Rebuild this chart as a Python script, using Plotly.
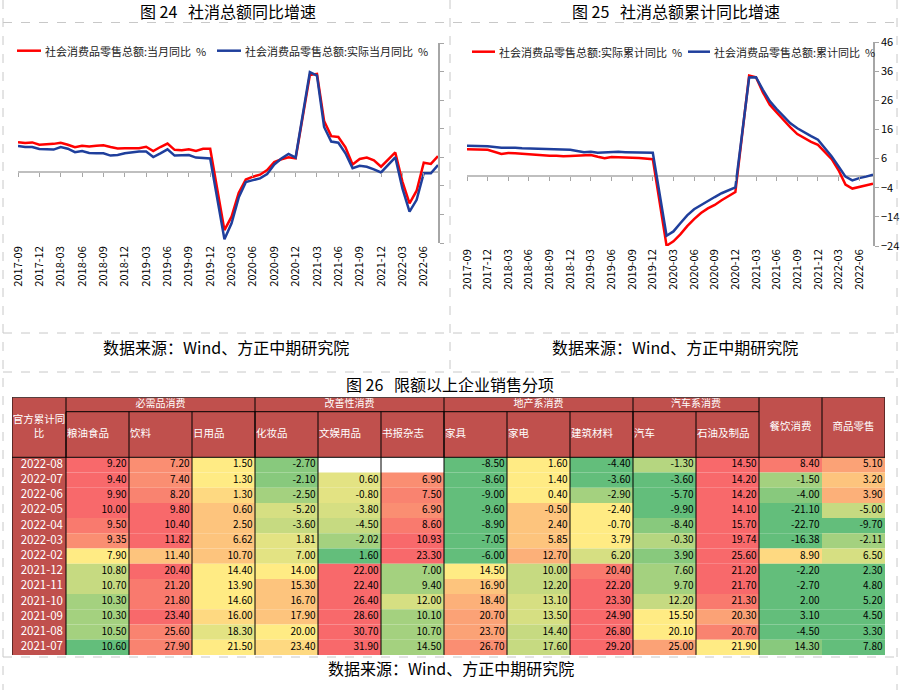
import plotly.graph_objects as go

# ---------------- data ----------------
months = [f"{y}-{m:02d}" for y in range(2017, 2023) for m in range(1, 13)][8:68]
tick_labels = months[::3]

retail_yoy = [10.3, 10.0, 10.2, 9.4, None, 9.7, 10.1, 9.4, 8.5, 9.0, 8.8, 9.0, 9.2, 8.6, 8.1, 8.2,
              None, 8.2, 8.7, 7.2, 8.6, 9.8, 7.6, 7.5, 7.8, 7.2, 8.0, 8.0,
              None, -20.5, -15.8, -7.5, -2.8, -1.8, -1.1, 0.5, 3.3, 4.3, 5.0, 4.6,
              None, 33.8, 34.2, 17.7, 12.4, 12.1, 8.5, 2.5, 4.4, 4.9, 3.9, 1.7,
              None, 6.7, -3.5, -11.1, -6.7, 3.1, 2.7, 5.4]
retail_real_yoy = [9.0, 8.6, 8.6, 7.9, None, 7.7, 8.6, 8.0, 6.8, 7.2, 6.5, 6.4, 6.4, 5.6, 5.8, 6.4,
                   None, 7.0, 7.0, 5.1, 6.4, 7.8, 5.6, 5.6, 5.8, 4.9, 4.8, 4.6,
                   None, -23.7, -18.1, -9.1, -3.7, -3.0, -2.4, -0.9, 2.5, 4.6, 6.2, 4.9,
                   None, 34.8, 33.6, 15.6, 10.5, 10.1, 6.4, 1.2, 2.0, 1.7, 0.8, -0.3,
                   None, 5.0, -5.9, -14.0, -9.9, -0.6, -0.6, 2.3]
retail_real_cum = [9.2, 9.1, 9.1, 9.0, None, 7.6, 7.9, 7.8, 7.6, 7.5, 7.3, 7.1, 7.0, 7.0, 6.8, 6.9,
                   None, 7.0, 7.2, 6.6, 6.1, 6.5, 6.5, 6.3, 6.3, 6.2, 6.0, 5.8,
                   None, -23.9, -22.4, -20.0, -17.2, -14.8, -12.7, -11.1, -9.9, -8.3, -6.8, -5.5,
                   None, 34.5, 33.9, 28.7, 24.5, 21.8, 19.2, 16.7, 14.4, 12.9, 11.7, 10.7,
                   None, 5.8, 2.0, -2.9, -4.3, -3.7, -3.2, -2.6]
retail_cum = [10.4, 10.3, 10.3, 10.2, None, 9.7, 9.8, 9.7, 9.5, 9.4, 9.3, 9.3, 9.3, 9.2, 9.1, 9.0,
              None, 8.2, 8.3, 8.0, 8.1, 8.4, 8.3, 8.2, 8.2, 8.1, 8.0, 8.0,
              None, -20.5, -19.0, -16.2, -13.5, -11.4, -9.9, -8.6, -7.2, -5.9, -4.8, -3.9,
              None, 33.8, 33.9, 29.6, 25.7, 23.0, 20.7, 18.1, 16.4, 14.9, 13.7, 12.5,
              None, 6.7, 3.3, -0.2, -1.5, -0.7, -0.2, 0.5]

left_ticks = [-25, -15, -5, 5, 15, 25, 35, 45]
right_ticks = [-24, -14, -4, 6, 16, 26, 36, 46]

table_dates = ['2022-08', '2022-07', '2022-06', '2022-05', '2022-04', '2022-03', '2022-02',
               '2021-12', '2021-11', '2021-10', '2021-09', '2021-08', '2021-07']
group_names = ['必需品消费', '改善性消费', '地产系消费', '汽车系消费']
group_spans = [(1, 3), (4, 6), (7, 9), (10, 11)]
col_names = ['粮油食品', '饮料', '日用品', '化妆品', '文娱用品', '书报杂志', '家具', '家电',
             '建筑材料', '汽车', '石油及制品', '餐饮消费', '商品零售']

grain_oil = [9.20, 9.40, 9.90, 10.00, 9.50, 9.35, 7.90, 10.80, 10.70, 10.30, 10.30, 10.50, 10.60]
beverage = [7.20, 7.40, 8.20, 9.80, 10.40, 11.82, 11.40, 20.40, 21.20, 21.80, 23.40, 25.60, 27.90]
daily_use = [1.50, 1.30, 1.30, 0.60, 2.50, 6.62, 10.70, 14.40, 13.90, 14.60, 16.00, 18.30, 21.50]
cosmetics = [-2.70, -2.10, -2.50, -5.20, -3.60, 1.81, 7.00, 14.00, 15.30, 16.70, 17.90, 20.00, 23.40]
stationery = [None, 0.60, -0.80, -3.80, -4.50, -2.02, 1.60, 22.00, 22.40, 26.40, 28.60, 30.70, 31.90]
books = [None, 6.90, 7.50, 6.90, 8.60, 10.93, 23.30, 7.00, 9.40, 12.00, 10.10, 10.70, 14.50]
furniture = [-8.50, -8.60, -9.00, -9.60, -8.90, -7.05, -6.00, 14.50, 16.90, 18.40, 20.70, 23.70, 26.70]
appliances = [1.60, 1.40, 0.40, -0.50, 2.40, 5.85, 12.70, 10.00, 12.20, 13.10, 13.50, 14.40, 17.60]
building = [-4.40, -3.60, -2.90, -2.40, -0.70, 3.79, 6.20, 20.40, 22.20, 23.30, 24.90, 26.80, 29.20]
autos = [-1.30, -3.60, -5.70, -9.90, -8.40, -0.30, 3.90, 7.60, 9.70, 12.20, 15.50, 20.10, 25.00]
petroleum = [14.50, 14.20, 14.20, 14.10, 15.70, 19.74, 25.60, 21.20, 21.70, 21.30, 20.30, 20.70, 21.90]
catering = [8.40, -1.50, -4.00, -21.10, -22.70, -16.38, 8.90, -2.20, -2.70, 2.00, 3.10, -4.50, 14.30]
goods_retail = [5.10, 3.20, 3.90, -5.00, -9.70, -2.11, 6.50, 2.30, 4.80, 5.20, 4.50, 3.30, 7.80]
table_columns = [grain_oil, beverage, daily_use, cosmetics, stationery, books, furniture,
                 appliances, building, autos, petroleum, catering, goods_retail]

# ---------------- styles ----------------
palette = {'R': '#F8696B', 'r': '#F97A6E', 's': '#F98370', 'S': '#FA8E72', 'O': '#FBA276',
           'p': '#FCB079', 'o': '#FDC47D', 'y': '#FED981', 'Y': '#FFEB84', 'e': '#E3E383',
           'L': '#D6DF82', 'l': '#C6DA81', 'k': '#B5D680', 'g': '#A4D17F', 'G': '#88C97D',
           'D': '#63BE7B', 'W': '#FFFFFF'}
cell_codes = ['RRRRrSYllgggD', 'SSsRRRoRrrRss', 'YYyooooYYYyeY', 'GGgLleeYoooYy',
              'WeeLlgDRRRRRR', 'WSsSrRRggLggg', 'DDDDDDDYopOOS', 'YYYooopllLLll',
              'DDgYYYLrRRRRR', 'kDDDGkGgglYYO', 'RRRRRRRRRrOsY', 'rgGDDDyDDDDDG',
              'OoplDgLDDDDDD']

W, H = 900, 692
FONT = 'Noto Sans CJK SC'
RED, BLUE = '#FF0000', '#1F3F9C'
AXC = '#A6A6A6'
HDR = '#C0504D'


def px(x):
    return x / W


def py(y):
    return 1 - y / H


idx = list(range(len(months)))
tick_idx = idx[::3]

fig = go.Figure()

fig.add_trace(go.Scatter(x=idx, y=retail_yoy, mode='lines', connectgaps=True,
                         line=dict(color=RED, width=2.5), xaxis='x', yaxis='y', hoverinfo='skip'))
fig.add_trace(go.Scatter(x=idx, y=retail_real_yoy, mode='lines', connectgaps=True,
                         line=dict(color=BLUE, width=2.5), xaxis='x', yaxis='y', hoverinfo='skip'))
fig.add_trace(go.Scatter(x=idx, y=retail_real_cum, mode='lines', connectgaps=True,
                         line=dict(color=RED, width=2.5), xaxis='x2', yaxis='y2', hoverinfo='skip'))
fig.add_trace(go.Scatter(x=idx, y=retail_cum, mode='lines', connectgaps=True,
                         line=dict(color=BLUE, width=2.5), xaxis='x2', yaxis='y2', hoverinfo='skip'))

L_dom_x = [px(18), px(438)]
L_dom_y = [py(243), py(43)]
R_dom_x = [px(467), px(873)]
R_dom_y = [py(246), py(42)]
L_range = [-25, 45]
R_range = [-24, 46]


def zero_pos(dom, rng):
    return dom[0] + (0 - rng[0]) / (rng[1] - rng[0]) * (dom[1] - dom[0])


xr = [0, len(months) - 1]
common_x = dict(type='linear', range=xr, tickmode='array', tickvals=tick_idx, showgrid=False,
                zeroline=False, fixedrange=True, automargin=False)
fig.update_layout(
    xaxis=dict(domain=L_dom_x, anchor='y', ticktext=tick_labels, tickangle=-90, ticks='',
               showline=False, tickfont=dict(family=FONT, size=11, color='#000'), **common_x),
    xaxis3=dict(domain=L_dom_x, overlaying='x', anchor='free', position=zero_pos(L_dom_y, L_range),
                side='bottom', ticks='outside', ticklen=4, tickcolor=AXC, showticklabels=False,
                showline=False, **common_x),
    yaxis=dict(domain=L_dom_y, anchor='x', range=L_range, side='right', tickmode='array',
               tickvals=left_ticks, showticklabels=False, ticks='outside', ticklen=4, tickcolor=AXC,
               showline=True, linecolor=AXC, linewidth=1.5, showgrid=False, zeroline=True,
               zerolinecolor='#BFBFBF', zerolinewidth=2, fixedrange=True, automargin=False),
    xaxis2=dict(domain=R_dom_x, anchor='y2', ticktext=tick_labels, tickangle=-90, ticks='',
                showline=False, tickfont=dict(family=FONT, size=11, color='#000'), **common_x),
    xaxis4=dict(domain=R_dom_x, overlaying='x2', anchor='free', position=zero_pos(R_dom_y, R_range),
                side='bottom', ticks='outside', ticklen=4, tickcolor=AXC, showticklabels=False,
                showline=False, **common_x),
    yaxis2=dict(domain=R_dom_y, anchor='x2', range=R_range, side='right', tickmode='array',
                tickvals=right_ticks, ticks='outside', ticklen=4, tickcolor=AXC,
                tickfont=dict(family=FONT, size=11, color='#000'),
                showline=True, linecolor=AXC, linewidth=1.5, showgrid=False, zeroline=True,
                zerolinecolor='#BFBFBF', zerolinewidth=2, fixedrange=True, automargin=False),
)
fig.add_trace(go.Scatter(x=xr, y=[0, 0], mode='lines', line=dict(width=0), opacity=0,
                         xaxis='x3', yaxis='y', hoverinfo='skip'))
fig.add_trace(go.Scatter(x=xr, y=[0, 0], mode='lines', line=dict(width=0), opacity=0,
                         xaxis='x4', yaxis='y2', hoverinfo='skip'))

shapes = []
annotations = []


def legend_item(x0, x1, y, color, text):
    shapes.append(dict(type='line', xref='paper', yref='paper', x0=px(x0), x1=px(x1),
                       y0=py(y), y1=py(y), line=dict(color=color, width=2.5)))
    annotations.append(dict(xref='paper', yref='paper', x=px(x1 + 2), y=py(y), text=text,
                            showarrow=False, xanchor='left', yanchor='middle',
                            font=dict(family=FONT, size=11, color='#222')))


legend_item(17, 41, 50.7, RED, '社会消费品零售总额:当月同比\u00a0\u00a0%')
legend_item(217, 241, 50.7, BLUE, '社会消费品零售总额:实际当月同比\u00a0\u00a0%')
legend_item(472, 495, 51.7, RED, '社会消费品零售总额:实际累计同比\u00a0\u00a0%')
legend_item(688, 710, 51.7, BLUE, '社会消费品零售总额:累计同比\u00a0\u00a0%')


def text_ann(x, y, text, size=16):
    annotations.append(dict(xref='paper', yref='paper', x=px(x), y=py(y), text=text,
                            showarrow=False, xanchor='center', yanchor='middle',
                            font=dict(family=FONT, size=size, color='#000')))


sp = '\u00a0'
text_ann(228, 11.5, f'图{sp}24{sp}{sp}{sp}社消总额同比增速')
text_ann(676, 11.5, f'图{sp}25{sp}{sp}{sp}社消总额累计同比增速')
text_ann(226, 347, '数据来源：Wind、方正中期研究院')
text_ann(675, 347, '数据来源：Wind、方正中期研究院')
text_ann(450, 384, f'图{sp}26{sp}{sp}{sp}限额以上企业销售分项')
text_ann(451, 668, '数据来源：Wind、方正中期研究院')


def dline(x0, y0, x1, y1):
    shapes.append(dict(type='line', xref='paper', yref='paper', x0=px(x0), y0=py(y0),
                       x1=px(x1), y1=py(y1), line=dict(color='#C8C8C8', width=1, dash='dash')))


dline(3, 22.5, 897, 22.5)
dline(450, 0, 450, 372)
dline(3, 333, 897, 333)
dline(3, 372, 897, 372)
dline(3, 657, 897, 657)
dline(3, 0, 3, 690)
dline(897, 0, 897, 690)

# ---------------- table ----------------
col_w = [54] + [63] * 13
edges = [0]
for w_ in col_w:
    edges.append(edges[-1] + w_)
h1, h2, rh = 14.4, 45.6, 15.2
n_rows = len(table_dates)
total_h = h1 + h2 + rh * n_rows
top_px = 397.3
fig.update_layout(
    xaxis5=dict(domain=[px(12), px(12 + edges[-1])], range=[0, edges[-1]], visible=False,
                anchor='y5', fixedrange=True, automargin=False),
    yaxis5=dict(domain=[py(top_px + total_h), py(top_px)], range=[total_h, 0], visible=False,
                anchor='x5', fixedrange=True, automargin=False),
)


def rect(x0, x1, y0, y1, color):
    shapes.append(dict(type='rect', xref='x5', yref='y5', x0=x0, x1=x1, y0=y0, y1=y1,
                       line=dict(width=0), fillcolor=color, layer='below'))


def bline(x0, y0, x1, y1):
    shapes.append(dict(type='line', xref='x5', yref='y5', x0=x0, x1=x1, y0=y0, y1=y1,
                       line=dict(color='#000', width=1)))


rect(0, edges[-1], 0, h1 + h2, HDR)
data_top = h1 + h2
rect(0, edges[1], data_top, total_h, HDR)
for c, codes in enumerate(cell_codes):
    for r, code in enumerate(codes):
        rect(edges[c + 1], edges[c + 2], data_top + r * rh, data_top + (r + 1) * rh, palette[code])

bline(0, 0, edges[-1], 0)
bline(0, data_top, edges[-1], data_top)
bline(edges[1], h1, edges[12], h1)
for e in [0, edges[1], edges[4], edges[7], edges[10], edges[12], edges[13], edges[14]]:
    bline(e, 0, e, data_top)
for e in edges[1:12]:
    bline(e, h1, e, data_top)
for e in edges[0:13]:
    bline(e, data_top, e, total_h)

num_x, num_y, num_t = [], [], []
for c, col in enumerate(table_columns):
    for r, v in enumerate(col):
        if v is None:
            continue
        num_x.append(edges[c + 2] - 2.5)
        num_y.append(data_top + (r + 0.5) * rh)
        num_t.append(f'{v:.2f}')
fig.add_trace(go.Scatter(x=num_x, y=num_y, text=num_t, mode='text', textposition='middle left',
                         textfont=dict(family=FONT, size=10, color='#000'),
                         xaxis='x5', yaxis='y5', hoverinfo='skip'))
fig.add_trace(go.Scatter(x=[edges[1] - 3] * n_rows,
                         y=[data_top + (r + 0.5) * rh for r in range(n_rows)],
                         text=table_dates, mode='text', textposition='middle left',
                         textfont=dict(family=FONT, size=11.5, color='#FFF'),
                         xaxis='x5', yaxis='y5', hoverinfo='skip'))
fig.add_trace(go.Scatter(x=[(edges[a] + edges[b + 1]) / 2 for a, b in group_spans],
                         y=[h1 / 2] * len(group_spans), text=group_names, mode='text',
                         textposition='middle center',
                         textfont=dict(family=FONT, size=10, color='#FFF'),
                         xaxis='x5', yaxis='y5', hoverinfo='skip'))
fig.add_trace(go.Scatter(x=[edges[c + 1] + 1 for c in range(11)], y=[h1 + h2 / 2] * 11,
                         text=col_names[:11], mode='text', textposition='middle right',
                         textfont=dict(family=FONT, size=10.5, color='#FFF'),
                         xaxis='x5', yaxis='y5', hoverinfo='skip'))
fig.add_trace(go.Scatter(x=[(edges[c + 1] + edges[c + 2]) / 2 for c in (11, 12)] + [edges[1] / 2],
                         y=[data_top / 2] * 3,
                         text=col_names[11:] + ['官方累计同<br>比'], mode='text',
                         textposition='middle center',
                         textfont=dict(family=FONT, size=10.5, color='#FFF'),
                         xaxis='x5', yaxis='y5', hoverinfo='skip'))

fig.update_layout(width=W, height=H,
                  margin=dict(l=0, r=0, t=0, b=0, pad=0, autoexpand=False),
                  showlegend=False, paper_bgcolor='#FFF', plot_bgcolor='rgba(0,0,0,0)',
                  shapes=shapes, annotations=annotations)
fig.write_html('out.html', config={'displayModeBar': False},
               post_script="document.body.style.margin='0px';")
